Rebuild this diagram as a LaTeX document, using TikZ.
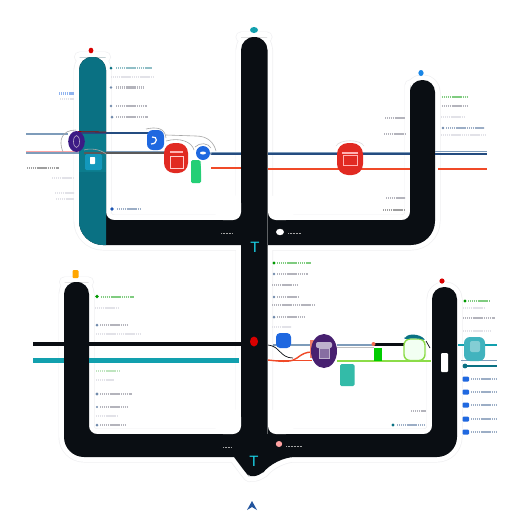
\documentclass[tikz,border=0pt]{standalone}
\usepackage{fontspec}
\setmainfont{Liberation Sans}
\definecolor{ink}{HTML}{0A0E13}
\definecolor{tealbar}{HTML}{0A7183}
\definecolor{tealline}{HTML}{12A0AE}
\definecolor{iconteal}{HTML}{1398BC}
\definecolor{halo}{HTML}{F0F0F2}
\definecolor{redbox}{HTML}{E12A22}
\definecolor{bluebox}{HTML}{1F68E0}
\definecolor{purplebox}{HTML}{472070}
\definecolor{navy}{HTML}{244C80}
\definecolor{steel}{HTML}{7E9CBA}
\definecolor{orangeline}{HTML}{F04A28}
\definecolor{lime}{HTML}{8CDC48}
\definecolor{sea}{HTML}{33BBA8}
\definecolor{txtgray}{HTML}{B4B4BC}
\definecolor{txtpale}{HTML}{E2E2E8}
\definecolor{teecolor}{HTML}{19CFE4}
\tikzset{
  x=1pt,y=-1pt,
  txt/.style={line width=2.6pt,dash pattern=on 1.4pt off .5pt},
  tg/.style={txt,draw=txtgray},
  tp/.style={txt,draw=txtpale},
  tdark/.style={txt,draw=gray!75},
  tgreen/.style={txt,draw=green!60!black!50},
  tteal/.style={txt,draw=tealbar!45},
  tblue/.style={txt,draw=navy!45},
  bullet/.style={fill=navy!65,draw=none},
  wire/.style={line width=.6pt,draw=gray!70},
  teeglyph/.style={text=teecolor,font=\fontsize{15}{15}\selectfont,inner sep=0},
}
\newcommand{\upperpath}{(92.5,57) [rounded corners=13pt] -- (106,57) [rounded corners=8pt] -- (106,220) [sharp corners] -- (241,220) -- (241,245) -- (268,245) -- (268,220) [rounded corners=8pt] -- (410,220) -- (410,93) [rounded corners=12pt] -- (410,80) -- (435,80) [rounded corners=24pt] -- (435,245) -- (79,245) [rounded corners=13pt] -- (79,57) -- cycle}
\newcommand{\lowerpath}{(76.5,282) [rounded corners=12pt] -- (89,282) [rounded corners=8pt] -- (89,434) -- (432,434) [rounded corners=12pt] -- (432,287) -- (457,287) [rounded corners=20pt] -- (457,457) -- (275,457) [rounded corners=5pt] -- (262,474) -- (250,477.5) -- (246,473) [rounded corners=0pt] -- (234,457) [rounded corners=20pt] -- (64,457) [rounded corners=12pt] -- (64,282) -- cycle}
\newcommand{\stempath}{(254,37) [rounded corners=13pt] -- (267.5,37) [sharp corners] -- (267.5,460) -- (241,460) [rounded corners=13pt] -- (241,37) -- cycle}
\begin{document}
\begin{tikzpicture}
\useasboundingbox (0,0) rectangle (512,512);
\fill[white] (0,0) rectangle (512,512);
% halo
\foreach \p in {\upperpath,\lowerpath,\stempath}{
  \draw[halo,line width=11pt,line join=round] \p;
}
\foreach \p in {\upperpath,\lowerpath,\stempath}{
  \draw[white,line width=9.6pt,line join=round] \p;
}
% black structure
\fill[ink] \upperpath;
\fill[ink] \lowerpath;
\fill[ink] \stempath;
% concave panel corners beside the stem
\fill[ink] (231,210) rectangle (241,220);
\fill[ink] (268,210) rectangle (278,220);
\fill[ink] (231,424) rectangle (241,434);
\fill[ink] (268,424) rectangle (278,434);
\fill[white,rounded corners=8pt] (215,195) rectangle (241,220);
\fill[white,rounded corners=8pt] (268,195) rectangle (294,220);
\fill[white,rounded corners=8pt] (215,409) rectangle (241,434);
\fill[white,rounded corners=8pt] (268,409) rectangle (294,434);
% teal arm
\begin{scope}
\clip (70,40) rectangle (106,250);
\fill[tealbar] \upperpath;
\end{scope}
\fill[tealline,opacity=.25] (79,131) rectangle (106,172);
% upper lines
\draw[steel,line width=1.6pt] (26,134) -- (68,134);
\draw[steel,line width=1.8pt] (26,153) -- (79,153);
\draw[red!50,line width=.7pt,opacity=.7] (26,151.5) -- (79,151.5);
\draw[navy,line width=1.6pt] (78,133) -- (150,133);
\draw[red!60!black,line width=.8pt] (78,131.6) -- (106,132);
\draw[gray!70!black,line width=1.6pt] (84,153) -- (180,153);
\draw[steel,line width=1pt] (106,151) -- (170,151);
\draw[steel,line width=1pt] (210,152) -- (241,152);
\draw[navy,line width=1.8pt] (210,154) -- (241,154);
\draw[steel,line width=1pt] (268,152) -- (410,152);
\draw[navy,line width=1.6pt] (268,154) -- (410,154);
\draw[steel,line width=1pt] (435,151.5) -- (487,151.5);
\draw[navy,line width=1.5pt] (435,154) -- (487,154);
\draw[orangeline,line width=2pt] (211,168) -- (241,168);
\draw[orangeline,line width=2pt] (268,168.5) -- (410,168.5);
\draw[orangeline,line width=2pt] (438,168.5) -- (487,168.5);
% upper wires
\draw[wire] (63,152) .. controls (58,140) and (62,130) .. (76,130);
\draw[wire] (84,150) .. controls (90,148) and (100,149) .. (106,154);
\draw[wire] (146,129) .. controls (155,127) and (165,127) .. (166,138);
\draw[wire] (166,135) -- (196,136) .. controls (208,136) and (214,143) .. (216,151);
\draw[wire] (166,141) .. controls (180,137) and (192,142) .. (194,150);
\draw[wire] (195,147) .. controls (200,142) and (208,143) .. (211,148);
\draw[gray!25,line width=.6pt] (336,146) .. controls (340,139) and (360,139) .. (364,146);
% upper nodes
\fill[iconteal,rounded corners=1.5pt] (85,154) rectangle (102,170);
\fill[white,rounded corners=.6pt] (90,157) rectangle (95,164);
\fill[purplebox!85!blue] (76.5,141.5) ellipse [x radius=8.3,y radius=10.5];
\draw[purplebox!40!white,line width=.6pt] (76.5,141.5) ellipse [x radius=3,y radius=6];
\fill[bluebox,rounded corners=6pt] (147,130) rectangle (164,150);
\draw[white,line width=1.2pt] (152,137) .. controls (158,136) and (158,144) .. (151,144);
\fill[redbox,rounded corners=10pt] (164,143) rectangle (188,173);
\draw[white!80!red,line width=.7pt] (170,156) rectangle (183,168);
\draw[white!70!red,line width=1.4pt] (170,152) -- (183,152);
\fill[sea!70!green,rounded corners=1.5pt] (191,160) rectangle (201,183);
\draw[white,line width=1pt] (201,161) -- (203,181);
\fill[bluebox] (203,153) circle (7pt);
\draw[white,line width=.6pt] (203,153) circle (8pt);
\fill[white] (203,153) ellipse [x radius=3,y radius=1.5];
\fill[redbox,rounded corners=11pt] (337,143) rectangle (363,175);
\draw[white!70!red,line width=.7pt] (343,155) rectangle (357,165);
\draw[white!70!red,line width=1.3pt] (342,153) -- (358,153);
% markers
\fill[red!85!black] (91,50.5) ellipse [x radius=2.4,y radius=2.8];
\fill[tealline] (254,30) ellipse [x radius=4,y radius=3];
\fill[bluebox!80!cyan] (421,73) ellipse [x radius=2.6,y radius=3];
\fill[orange!70!yellow,rounded corners=1pt] (72.5,278) rectangle (78.5,270);
\fill[red!85!black] (442,281) circle (2.6pt);
\fill[red!85!black] (254,341.5) ellipse [x radius=4,y radius=5];
\fill[white] (280,232) ellipse [x radius=4,y radius=3.2];
\fill[pink!85!red] (279,444) ellipse [x radius=3.2,y radius=3];
\fill[white,rounded corners=1pt] (441,353) rectangle (448,372);
\node[teeglyph] (tee1) at (255,247) {T};
\node[teeglyph] (tee2) at (254,461) {T};
\fill[navy!70!bluebox] (252,501) -- (257,510) -- (252,507) -- (247,510) -- cycle;
\draw[gray!70,line width=1pt,dash pattern=on 1pt off .5pt] (221,233) -- (233,233);
\draw[gray!70,line width=1pt,dash pattern=on 1pt off .5pt] (288,233) -- (301,233);
\draw[gray!70,line width=1pt,dash pattern=on 1pt off .5pt] (223,447) -- (232,447);
\draw[gray!70,line width=1pt,dash pattern=on 1pt off .5pt] (286,446) -- (302,446);
% lower lines
\draw[ink,line width=3.4pt] (33,344) -- (64,344);
\draw[ink,line width=3.4pt] (89,344) -- (241,344);
\draw[tealline,line width=5.5pt] (33,360.5) -- (64,360.5);
\draw[tealline,line width=5.5pt] (89,360.5) -- (239,360.5);
\draw[steel,line width=1.8pt] (273,345) -- (310,345);
\draw[steel,line width=1.6pt] (337,345) -- (374,345);
\draw[gray!50,line width=.8pt] (337,347.5) -- (374,347.5);
\draw[ink,line width=3pt] (373,344) -- (406,344);
\draw[orangeline,line width=1.4pt] (268,360) .. controls (285,362) and (292,362) .. (297,358) .. controls (302,354) and (306,352) .. (312,352);
\draw[orangeline,line width=1pt] (268,360.5) -- (312,360.5);
\draw[ink,line width=.7pt] (268,345) .. controls (280,346) and (280,358) .. (293,358);
\draw[lime,line width=2pt] (337,361) -- (431,361);
\draw[tealline,line width=2.6pt] (458,345) -- (497,345);
\draw[steel,line width=.8pt] (461,360) -- (497,360);
\draw[tealbar,line width=1.8pt] (466,366) -- (497,366);
\fill[tealbar] (465,366) circle (2.4pt);
% lower nodes
\fill[bluebox,rounded corners=4pt] (276,333) rectangle (291,348);
\fill[orangeline!70] (310,340) rectangle (314,358);
\fill[purplebox] (324,351) ellipse [x radius=13,y radius=17];
\fill[purplebox!35!white,rounded corners=2pt] (316,342) rectangle (332,348);
\draw[purplebox!35!white,fill=purplebox!65!white,line width=.5pt] (319,348) rectangle (329,358);
\fill[sea,rounded corners=1.5pt] (340,364) rectangle (354.5,386);
\fill[green!80!black] (374,348) rectangle (382,361);
\fill[orangeline!80] (373.5,344) circle (2pt);
\draw[lime,fill=green!5,line width=1.4pt,rounded corners=6pt] (404,339) rectangle (425,360.5);
\fill[tealbar,rounded corners=3pt] (404,340) .. controls (408,333) and (420,334) .. (426,341) .. controls (420,338) and (410,338) .. cycle;
\draw[ink,line width=.7pt] (426,341) -- (430,348);
\fill[tealline!80!white,rounded corners=6pt] (464,337) rectangle (485,361);
\fill[white,opacity=.35,rounded corners=2pt] (470,341) rectangle (480,352);
% text strips, top left
\fill[tealbar] (111,68) circle (1.5pt); \draw[tteal] (116,68) -- (152,68);
\draw[tp] (111,77) -- (153,77);
\fill[bullet] (111,87.5) circle (1.3pt); \draw[tg] (116,87.5) -- (144,87.5);
\fill[bullet] (111,106) circle (1.3pt); \draw[tg] (116,106) -- (147,106);
\fill[bullet] (112,117) circle (1.5pt); \draw[tg] (116,117) -- (148,117);
\draw[txt,draw=bluebox!50] (59,93.5) -- (74,93.5);
\draw[tp] (60,99) -- (74,99);
\draw[tdark] (27,168) -- (59,168);
\draw[tp] (52,178) -- (74,178);
\draw[tp] (55,193) -- (74,193);
\draw[tp] (56,199) -- (74,199);
\fill[bluebox!80!black] (112,209) circle (1.8pt); \draw[tblue] (117,209) -- (140,209);
% top right
\draw[tgreen] (442,97) -- (468,97);
\draw[tg] (442,106) -- (468,106);
\draw[tp] (441,117) -- (465,117);
\fill[bullet] (443,128) circle (1.4pt); \draw[tblue] (446,128) -- (484,128);
\draw[tp] (441,135) -- (485,135);
\draw[tg] (385,118) -- (405,118);
\draw[tg] (384,134) -- (405,134);
\draw[tg] (386,198) -- (405,198);
\draw[tdark] (383,210) -- (405,210);
% bottom left
\fill[green!60!black] (97,296.5) circle (1.8pt); \draw[tgreen] (101,297) -- (134,297);
\draw[tp] (95,308) -- (119,308);
\fill[bullet] (97,325) circle (1.5pt); \draw[tg] (100,325) -- (127,325);
\draw[tp] (96,334) -- (140,334);
\draw[tgreen,opacity=.5] (96,371) -- (119,371);
\draw[tp] (96,380) -- (114,380);
\fill[bullet] (97,394) circle (1.6pt); \draw[tg] (100,394) -- (132,394);
\fill[bullet] (97,407) circle (1.2pt); \draw[tg] (100,407) -- (128,407);
\draw[tp] (96,416) -- (117,416);
\fill[bullet] (97,425) circle (1.5pt); \draw[tg] (100,425) -- (126,425);
% bottom right, panel
\fill[green!60!black] (274,263) circle (1.6pt); \draw[tgreen] (277,263) -- (311,263);
\fill[bullet] (274,274) circle (1.3pt); \draw[tg] (277,274) -- (308,274);
\draw[tg] (272,285) -- (298,285);
\fill[bullet] (274,297) circle (1.3pt); \draw[tg] (277,297) -- (298,297);
\draw[tg] (272,305) -- (315,305);
\fill[bullet] (274,317) circle (1.5pt); \draw[tg] (277,317) -- (305,317);
\draw[tp] (272,327) -- (291,327);
\draw[tg] (411,411) -- (426,411);
\fill[tealbar] (393,425) circle (1.6pt); \draw[tblue] (397,425) -- (425,425);
% bottom right, outside
\fill[green!60!black] (465,301) circle (1.6pt); \draw[tgreen] (468,301) -- (489,301);
\draw[tp] (463,308) -- (485,308);
\draw[tg] (463,318) -- (495,318);
\draw[tp] (463,331) -- (490,331);
\foreach \yy in {379,392,405,419,432}{
  \fill[bluebox,rounded corners=1pt] (462.5,\yy-2.5) rectangle (469,\yy+2.5);
  \draw[tblue] (471,\yy) -- (497,\yy);
}
\end{tikzpicture}
\end{document}
